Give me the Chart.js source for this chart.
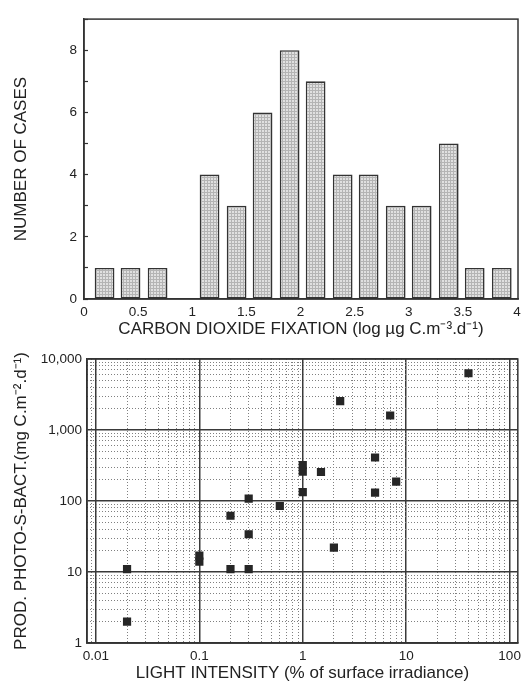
<!DOCTYPE html>
<html>
<head>
<meta charset="utf-8">
<script src="https://cdn.jsdelivr.net/npm/chart.js@4/dist/chart.umd.min.js"></script>
<style>
  html, body { margin: 0; padding: 0; background: #ffffff; }
  #wrap { position: relative; width: 526px; height: 684px; overflow: hidden; }
  #c1 { position: absolute; left: 0; top: 0; }
  #c2 { position: absolute; left: 0; top: 340px; }
</style>
</head>
<body>
<div id="wrap">
  <canvas id="c1" width="526" height="340"></canvas>
  <canvas id="c2" width="526" height="344"></canvas>
</div>
<script>
// ---------- DATA: histogram ----------
const binCenters = [0.19, 0.43, 0.68, 0.92, 1.16, 1.41, 1.65, 1.90, 2.14, 2.39, 2.63, 2.88, 3.12, 3.37, 3.61, 3.86];
const caseCounts = [1, 1, 1, 0, 4, 3, 6, 8, 7, 4, 4, 3, 3, 5, 1, 1];
const histXTicks = [0, 0.5, 1, 1.5, 2, 2.5, 3, 3.5, 4];
const histXTickLabels = ['0', '0.5', '1', '1.5', '2', '2.5', '3', '3.5', '4'];
const histYTicks = [0, 1, 2, 3, 4, 5, 6, 7, 8, 9];
const histYTickLabels = ['0', '', '2', '', '4', '', '6', '', '8', ''];

// ---------- DATA: scatter ----------
const lightIntensity = [40, 2.3, 7, 5, 1, 1, 1.5, 8, 1, 5, 0.3, 0.6, 0.2, 0.3, 2, 0.1, 0.1, 0.02, 0.2, 0.3, 0.02];
const productionPSB = [6300, 2550, 1600, 410, 320, 260, 256, 187, 133, 131, 108, 85, 62, 34, 22, 17, 14, 11, 11, 11, 2];
const logXTicks = [0.01, 0.1, 1, 10, 100];
const logXTickLabels = ['0.01', '0.1', '1', '10', '100'];
const logYTicks = [1, 10, 100, 1000, 10000];
const logYTickLabels = ['1', '10', '100', '1,000', '10,000'];

const FONT = "'Liberation Sans', Arial, Helvetica, sans-serif";
const INK = '#222222';
const TICKFONT = { family: FONT, size: 13.5 };
const TITLEFONT = { family: FONT, size: 17 };

function minorLogValues(lo, hi) {
  const out = [];
  for (let e = Math.floor(Math.log10(lo)); e <= Math.ceil(Math.log10(hi)); e++) {
    for (let m = 2; m <= 9; m++) {
      const v = m * Math.pow(10, e);
      if (v > lo && v < hi) out.push(+v.toPrecision(3));
    }
  }
  return out;
}

const frameBox = {
  id: 'frameBox',
  afterDraw(chart, args, opts) {
    const a = chart.chartArea, ctx = chart.ctx;
    ctx.save();
    ctx.strokeStyle = opts.color || '#333';
    ctx.lineWidth = opts.width || 1.5;
    ctx.strokeRect(a.left, a.top, a.right - a.left, a.bottom - a.top);
    ctx.restore();
  }
};

// stippled bar fill
function makePattern() {
  const p = document.createElement('canvas');
  p.width = 3; p.height = 3;
  const g = p.getContext('2d');
  g.fillStyle = '#e0e0e0';
  g.fillRect(0, 0, 3, 3);
  g.fillStyle = '#b4b4b4';
  g.fillRect(0, 0, 3, 1);
  g.fillRect(0, 0, 1, 3);
  return document.getElementById('c1').getContext('2d').createPattern(p, 'repeat');
}

// ---------- Histogram ----------
new Chart(document.getElementById('c1'), {
  type: 'bar',
  data: {
    datasets: [{
      data: binCenters.map((c, i) => ({ x: c, y: caseCounts[i] })),
      backgroundColor: makePattern(),
      borderColor: '#333',
      borderWidth: 1.6,
      borderSkipped: false,
      categoryPercentage: 1,
      barPercentage: 0.76
    }]
  },
  options: {
    responsive: false,
    animation: false,
    layout: { padding: { top: 11, right: 8, left: 0, bottom: 0 } },
    plugins: { legend: { display: false }, tooltip: { enabled: false }, frameBox: { color: '#333', width: 1.5 } },
    scales: {
      x: {
        type: 'linear', min: 0, max: 4.01, offset: false,
        afterBuildTicks: s => { s.ticks = histXTicks.map(v => ({ value: v })); },
        afterFit: s => { s.height = 41; },
        grid: { display: false, drawTicks: false },
        border: { display: true, color: '#333', width: 1.5 },
        ticks: {
          padding: 5, color: INK, font: TICKFONT,
          maxRotation: 0, autoSkip: false,
          callback: (v, i) => histXTickLabels[i]
        },
        title: {
          display: true, text: 'CARBON DIOXIDE FIXATION (log \u00B5g C.m\u207B\u00B3.d\u207B\u00B9)',
          color: INK, font: TITLEFONT, padding: { top: 0, bottom: 0 }
        }
      },
      y: {
        min: 0, max: 9,
        afterBuildTicks: s => { s.ticks = histYTicks.map(v => ({ value: v })); },
        afterFit: s => { s.width = 84; },
        grid: { display: true, drawOnChartArea: false, drawTicks: true, tickLength: -4, tickColor: '#333', tickWidth: 1.2 },
        border: { display: true, color: '#333', width: 1.5 },
        ticks: {
          padding: 11, color: INK, font: TICKFONT, autoSkip: false,
          callback: (v, i) => histYTickLabels[i]
        },
        title: {
          display: true, text: 'NUMBER OF CASES',
          color: INK, font: TITLEFONT, padding: { top: 11, bottom: 0 }
        }
      }
    }
  },
  plugins: [frameBox]
});

// ---------- Log-log scatter ----------
const XMIN = 0.0082, XMAX = 120, YMIN = 1, YMAX = 10000;
new Chart(document.getElementById('c2'), {
  type: 'scatter',
  data: {
    datasets: [{
      data: lightIntensity.map((x, i) => ({ x: x, y: productionPSB[i] })),
      pointStyle: 'rect',
      pointRadius: 5.8,
      backgroundColor: '#262626',
      borderColor: '#262626',
      borderWidth: 0,
      xAxisID: 'x', yAxisID: 'y'
    }]
  },
  options: {
    responsive: false,
    animation: false,
    layout: { padding: { top: 19, right: 6, left: 0, bottom: 0 } },
    plugins: { legend: { display: false }, tooltip: { enabled: false }, frameBox: { color: '#333', width: 1.5 } },
    scales: {
      x: {
        type: 'logarithmic', position: 'bottom', min: XMIN, max: XMAX,
        afterBuildTicks: s => { s.ticks = logXTicks.map(v => ({ value: v })); },
        afterFit: s => { s.height = 41; },
        grid: { display: true, drawTicks: false, color: '#3a3a3a', lineWidth: 1.5 },
        border: { display: true, color: '#333', width: 1.5 },
        ticks: {
          padding: 5, color: INK, font: TICKFONT,
          maxRotation: 0, autoSkip: false,
          callback: (v, i) => logXTickLabels[i]
        },
        title: {
          display: true, text: 'LIGHT INTENSITY (% of surface irradiance)',
          color: INK, font: TITLEFONT, padding: { top: 0, bottom: 0 }
        }
      },
      x2: {
        type: 'logarithmic', position: 'bottom', min: XMIN, max: XMAX,
        afterBuildTicks: s => { s.ticks = minorLogValues(XMIN, XMAX).map(v => ({ value: v })); },
        afterFit: s => { s.height = 0; },
        grid: { display: true, drawTicks: false, color: '#808080', lineWidth: 1 },
        border: { display: false, dash: [1, 2] },
        ticks: { display: false }
      },
      y: {
        type: 'logarithmic', position: 'left', min: YMIN, max: YMAX,
        afterBuildTicks: s => { s.ticks = logYTicks.map(v => ({ value: v })); },
        afterFit: s => { s.width = 87; },
        grid: { display: true, drawTicks: false, color: '#3a3a3a', lineWidth: 1.5 },
        border: { display: true, color: '#333', width: 1.5 },
        ticks: {
          padding: 5, color: INK, font: TICKFONT, autoSkip: false,
          callback: (v, i) => logYTickLabels[i]
        },
        title: {
          display: true, text: 'PROD. PHOTO-S-BACT.(mg C.m\u207B\u00B2.d\u207B\u00B9)',
          color: INK, font: TITLEFONT, padding: { top: 11, bottom: 0 }
        }
      },
      y2: {
        type: 'logarithmic', position: 'left', min: YMIN, max: YMAX,
        afterBuildTicks: s => { s.ticks = minorLogValues(YMIN, YMAX).map(v => ({ value: v })); },
        afterFit: s => { s.width = 0; },
        grid: { display: true, drawTicks: false, color: '#808080', lineWidth: 1 },
        border: { display: false, dash: [1, 2] },
        ticks: { display: false }
      }
    }
  },
  plugins: [frameBox]
});
</script>
</body>
</html>
